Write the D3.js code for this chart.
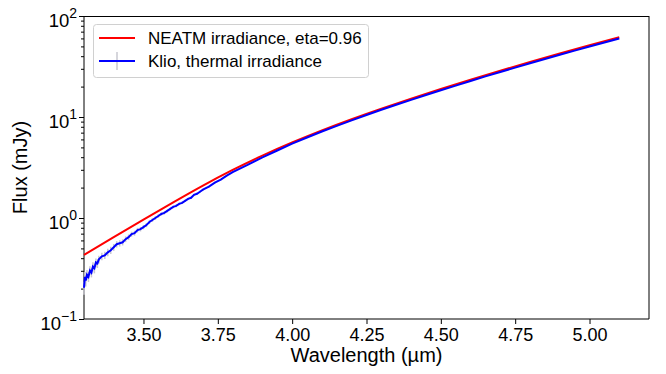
<!DOCTYPE html>
<html>
<head>
<meta charset="utf-8">
<script src="https://cdn.jsdelivr.net/npm/d3@7"></script>
<style>
    body { margin: 0; background: #fff; }
    #chart text { font-family: "Liberation Sans", Arial, sans-serif; }
</style>
</head>
<body>
<div id="chart"></div>
<script>
// NEATM model curve (mJy)
var modelWavelength = [3.30, 3.40, 3.50, 3.60, 3.70, 3.80, 3.90, 4.00, 4.10, 4.20,
    4.30, 4.40, 4.50, 4.60, 4.70, 4.80, 4.90, 5.00, 5.10];
var modelFlux = [0.431, 0.647, 0.966, 1.429, 2.094, 2.992, 4.150, 5.598, 7.379, 9.528,
    12.11, 15.21, 18.92, 23.39, 28.71, 34.99, 42.46, 51.29, 61.66];

// Klio thermal irradiance spectrum (mJy)
var klioWavelength = [3.300, 3.303, 3.306, 3.310, 3.315, 3.320, 3.325, 3.330, 3.335, 3.340, 3.345,
    3.35, 3.36, 3.37, 3.38, 3.39, 3.40, 3.41, 3.42, 3.43, 3.44, 3.45, 3.46, 3.47, 3.48, 3.49,
    3.50, 3.51, 3.52, 3.53, 3.54, 3.55, 3.56, 3.57, 3.58, 3.59, 3.60, 3.61, 3.62, 3.63, 3.64,
    3.65, 3.66, 3.67, 3.68, 3.69, 3.70, 3.72, 3.74, 3.76, 3.78, 3.80,
    3.85, 3.90, 3.95, 4.00, 4.05, 4.10, 4.15, 4.20, 4.25, 4.30, 4.35, 4.40, 4.45, 4.50,
    4.55, 4.60, 4.65, 4.70, 4.75, 4.80, 4.85, 4.90, 4.95, 5.00, 5.05, 5.10];
var klioFlux = [0.204, 0.262, 0.240, 0.275, 0.262, 0.302, 0.288, 0.330, 0.318, 0.363, 0.355,
    0.389, 0.417, 0.427, 0.457, 0.479, 0.513, 0.550, 0.562, 0.575, 0.617, 0.646, 0.692, 0.708, 0.759, 0.776,
    0.813, 0.851, 0.912, 0.955, 1.000, 1.047, 1.096, 1.122, 1.175, 1.230, 1.288, 1.318, 1.380, 1.413, 1.479,
    1.549, 1.585, 1.698, 1.738, 1.820, 1.905, 2.042, 2.239, 2.399, 2.630, 2.851,
    3.350, 3.981, 4.656, 5.445, 6.266, 7.178, 8.166, 9.268, 10.47, 11.78, 13.21, 14.79, 16.52, 18.41,
    20.46, 22.75, 25.23, 27.93, 30.83, 34.04, 37.50, 41.30, 45.41, 49.89, 54.70, 59.98];
var klioError = [0.03, 0.03, 0.03, 0.03, 0.03, 0.03, 0.03, 0.035, 0.035, 0.035, 0.035,
    0.035, 0.035, 0.035, 0.04, 0.04, 0.04, 0.04, 0.04, 0.04, 0.04, 0.04, 0.04, 0.04, 0.04, 0.04,
    0.04, 0.04, 0.04, 0.04, 0.04, 0.04, 0.04, 0.04, 0.04, 0.04, 0.04, 0.04, 0.04, 0.04, 0.04,
    0.04, 0.04, 0.04, 0.04, 0.04, 0.04, 0.04, 0.04, 0.04, 0.04, 0.04,
    0.05, 0.05, 0.05, 0.05, 0.05, 0.05, 0.05, 0.05, 0.05, 0.05, 0.05, 0.05, 0.05, 0.05,
    0.05, 0.05, 0.05, 0.05, 0.05, 0.05, 0.05, 0.05, 0.05, 0.05, 0.05, 0.05];

var xTickValues = [3.50, 3.75, 4.00, 4.25, 4.50, 4.75, 5.00];
var yTickExponents = [-1, 0, 1, 2];
var legendLabels = ['NEATM irradiance, eta=0.96', 'Klio, thermal irradiance'];

function FluxChart() {

    this.init = function() {
        this._config = {
            width: 666,
            height: 374,
            left: 84,
            right: 649,
            top: 16,
            bottom: 319
        };
        this._svg = undefined;
        this._initElements();
        this._drawAxes();
        this._drawSeries();
        this._drawLegend();
    };

    this._initElements = function() {
        var c = this._config;
        this._svg = d3.select('#chart')
            .append('svg')
            .attr('width', c.width)
            .attr('height', c.height);

        this._x = d3.scaleLinear().domain([3.3, 5.2]).range([c.left, c.right]);
        this._y = d3.scaleLog().domain([0.1, 100]).range([c.bottom, c.top]);
    };

    this._drawAxes = function() {
        var c = this._config;
        var svg = this._svg;
        var x = this._x, y = this._y;

        var xAxis = svg.append('g')
            .attr('transform', 'translate(0,' + c.bottom + ')')
            .call(d3.axisBottom(x).tickValues(xTickValues)
                .tickFormat(d3.format('.2f')).tickSize(5).tickPadding(4));
        xAxis.select('.domain').remove();
        xAxis.selectAll('text').attr('font-size', 18).attr('fill', '#000');

        // minor ticks for log axis
        var minor = [];
        yTickExponents.slice(0, -1).forEach(function(e) {
            for (var k = 2; k <= 9; k++) minor.push(k * Math.pow(10, e));
        });
        var yMinor = svg.append('g')
            .attr('transform', 'translate(' + c.left + ',0)')
            .call(d3.axisLeft(y).tickValues(minor).tickFormat('').tickSize(3));
        yMinor.select('.domain').remove();

        var yMajor = svg.append('g')
            .attr('transform', 'translate(' + c.left + ',0)')
            .call(d3.axisLeft(y).tickValues(yTickExponents.map(function(e) { return Math.pow(10, e); }))
                .tickFormat('').tickSize(5));
        yMajor.select('.domain').remove();

        // 10^n labels
        var labels = svg.append('g');
        yTickExponents.forEach(function(e) {
            var t = labels.append('text')
                .attr('x', c.left - 7)
                .attr('y', y(Math.pow(10, e)) + 11)
                .attr('text-anchor', 'end')
                .attr('fill', '#000');
            t.append('tspan').attr('font-size', 18.5).text('10');
            t.append('tspan').attr('font-size', 14).attr('dy', -9)
                .text(e < 0 ? '\u2212' + Math.abs(e) : String(e));
        });

        // spines
        svg.append('line').attr('x1', c.left).attr('x2', c.right)
            .attr('y1', c.top + 0.5).attr('y2', c.top + 0.5).attr('stroke', '#000');
        svg.append('line').attr('x1', c.left).attr('x2', c.left)
            .attr('y1', c.top).attr('y2', c.bottom).attr('stroke', '#000');
        svg.append('line').attr('x1', c.right).attr('x2', c.right)
            .attr('y1', c.top).attr('y2', c.bottom).attr('stroke', '#000');
        svg.append('line').attr('x1', c.left).attr('x2', c.right)
            .attr('y1', c.bottom).attr('y2', c.bottom).attr('stroke', '#000');

        svg.append('text')
            .attr('x', (c.left + c.right) / 2)
            .attr('y', 362)
            .attr('text-anchor', 'middle')
            .attr('font-size', 20)
            .text('Wavelength (\u00b5m)');

        svg.append('text')
            .attr('transform', 'translate(27,' + ((c.top + c.bottom) / 2) + ') rotate(-90)')
            .attr('text-anchor', 'middle')
            .attr('font-size', 20)
            .text('Flux (mJy)');
    };

    this._drawSeries = function() {
        var svg = this._svg;
        var x = this._x, y = this._y;

        var model = modelWavelength.map(function(w, i) { return [w, modelFlux[i]]; });
        var klio = klioWavelength.map(function(w, i) { return [w, klioFlux[i], klioError[i]]; });

        var line = d3.line()
            .x(function(d) { return x(d[0]); })
            .y(function(d) { return y(d[1]); });

        svg.append('path')
            .datum(model)
            .attr('d', line.curve(d3.curveNatural))
            .attr('fill', 'none')
            .attr('stroke', '#ff0000')
            .attr('stroke-width', 2);

        svg.append('g').selectAll('line')
            .data(klio)
            .enter().append('line')
            .attr('x1', function(d) { return x(d[0]); })
            .attr('x2', function(d) { return x(d[0]); })
            .attr('y1', function(d) { return y(d[1] - d[2]); })
            .attr('y2', function(d) { return y(d[1] + d[2]); })
            .attr('stroke', '#c8c8d0')
            .attr('stroke-width', 1.5);

        svg.append('path')
            .datum(klio)
            .attr('d', line.curve(d3.curveLinear))
            .attr('fill', 'none')
            .attr('stroke', '#0000ff')
            .attr('stroke-width', 2);
    };

    this._drawLegend = function() {
        var svg = this._svg;
        var g = svg.append('g');

        g.append('rect')
            .attr('x', 93.5).attr('y', 24.5)
            .attr('width', 275).attr('height', 53)
            .attr('rx', 3)
            .attr('fill', '#fff').attr('fill-opacity', 0.8)
            .attr('stroke', '#d0d0d0');

        var colors = ['#ff0000', '#0000ff'];
        legendLabels.forEach(function(label, i) {
            var ly = 38 + i * 23;
            if (i === 1) {
                g.append('line').attr('x1', 117).attr('x2', 117)
                    .attr('y1', ly - 9).attr('y2', ly + 9)
                    .attr('stroke', '#c8c8d0').attr('stroke-width', 1.5);
            }
            g.append('line')
                .attr('x1', 99).attr('x2', 135)
                .attr('y1', ly).attr('y2', ly)
                .attr('stroke', colors[i]).attr('stroke-width', 2);
            g.append('text')
                .attr('x', 148).attr('y', ly + 6)
                .attr('font-size', 17)
                .text(label);
        });
    };

    this.init();
}

function initApp() {
    if (typeof(window.fluxChart) === 'undefined') {
        window.fluxChart = new FluxChart();
    }
}
document.addEventListener('DOMContentLoaded', initApp);
</script>
</body>
</html>
